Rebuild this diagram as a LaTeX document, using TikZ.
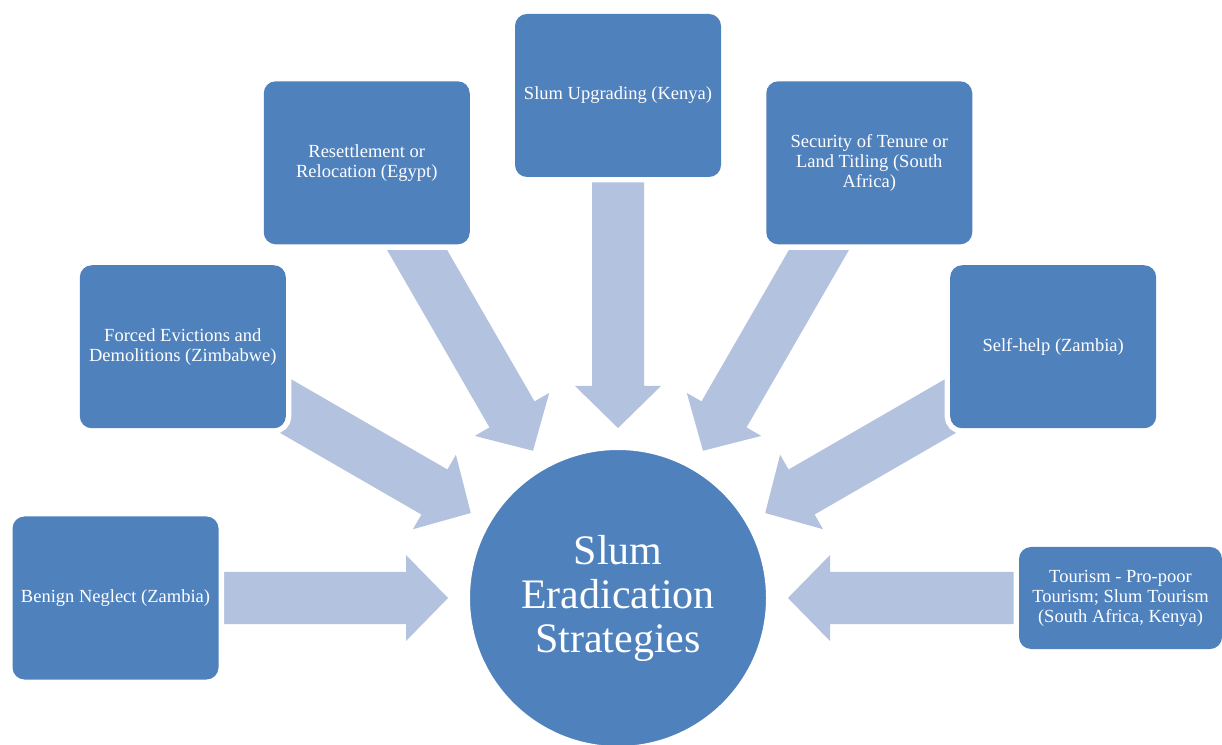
\documentclass[tikz,border=0pt]{standalone}
\usepackage{fontspec}
\setmainfont{Liberation Serif}
\definecolor{boxblue}{RGB}{79,129,189}
\definecolor{arrowblue}{RGB}{179,194,222}
\begin{document}
\begin{tikzpicture}[x=1pt,y=1pt,
  box/.style={rectangle, rounded corners=12pt, fill=boxblue, minimum width=206pt, minimum height=163pt, inner sep=2pt, align=center, text=white, font=\fontsize{18.5}{20}\selectfont, preaction={draw=white, line width=11pt}},
  hub/.style={circle, fill=boxblue, draw=white, line width=2pt, minimum size=298pt, inner sep=0pt, text=white, align=center, font=\fontsize{42}{44}\selectfont},
  blockarrow/.style={fill=arrowblue}]
\useasboundingbox (0,0) rectangle (1222,744);
\node[hub] (c) at (618,146) {Slum\\Eradication\\Strategies};
\foreach \a in {0,30,...,180}{
  \begin{scope}[shift={(c.center)}, rotate=\a]
    \path[blockarrow] (170,0) -- (212,43) -- (212,26) -- (470,26) -- (470,-26) -- (212,-26) -- (212,-43) -- cycle;
  \end{scope}
}
\node[box] (b90) at ([shift={(90:502.5)}]c.center) {Slum Upgrading (Kenya)};
\node[box] (b120) at ([shift={(120:502.5)}]c.center) {Resettlement or\\Relocation (Egypt)};
\node[box] (b60) at ([shift={(60:502.5)}]c.center) {Security of Tenure or\\Land Titling (South\\Africa)};
\node[box] (b150) at ([shift={(150:502.5)}]c.center) {Forced Evictions and\\Demolitions (Zimbabwe)};
\node[box] (b30) at ([shift={(30:502.5)}]c.center) {Self-help (Zambia)};
\node[box] (b180) at ([shift={(180:502.5)}]c.center) {Benign Neglect (Zambia)};
\node[box, minimum width=203pt, minimum height=102pt] (b0) at ([shift={(0:502.5)}]c.center) {Tourism - Pro-poor\\Tourism; Slum Tourism\\(South Africa, Kenya)};
\end{tikzpicture}
\end{document}
